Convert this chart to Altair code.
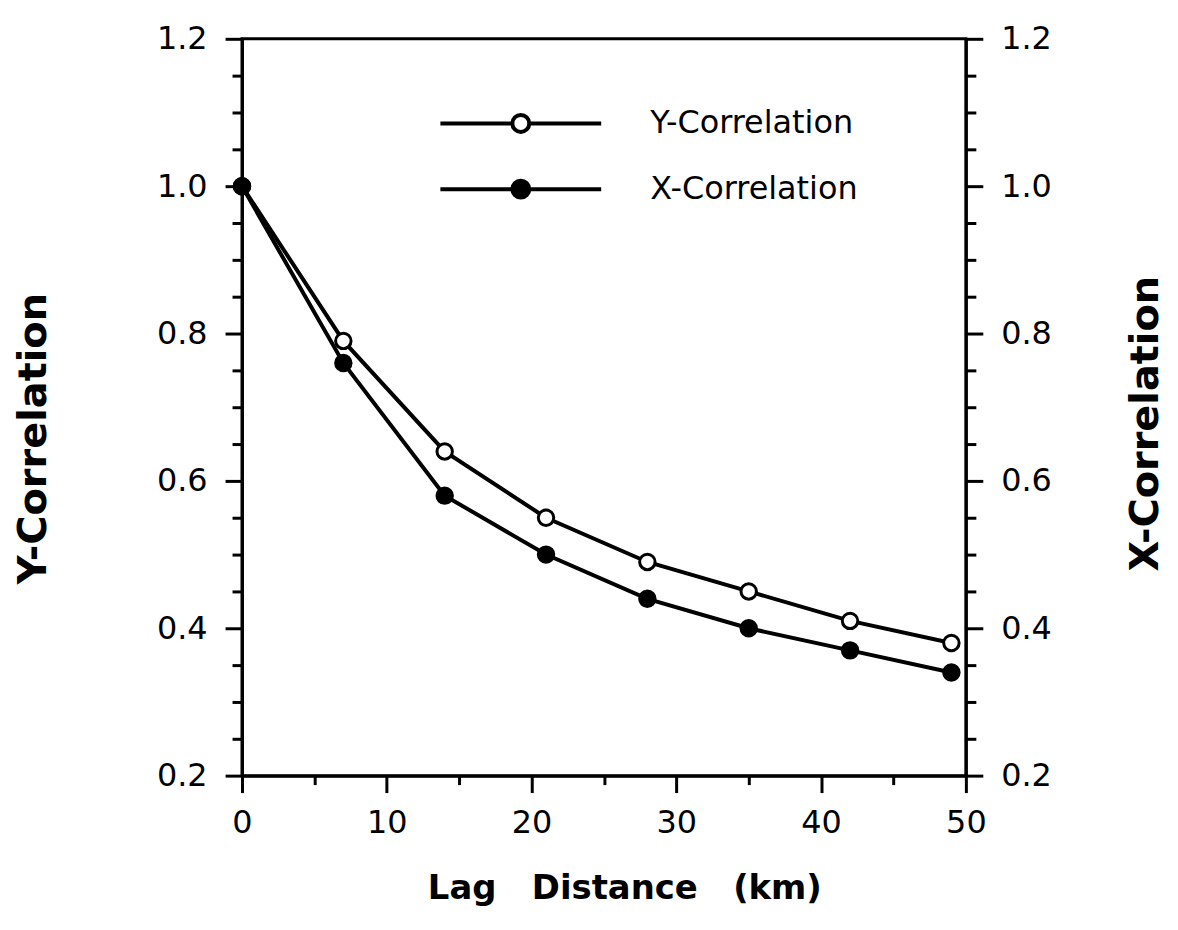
import altair as alt
import pandas as pd

# ---- data ----
lag_km = [0, 7, 14, 21, 28, 35, 42, 49]
y_correlation = [1.00, 0.79, 0.64, 0.55, 0.49, 0.45, 0.41, 0.38]
x_correlation = [1.00, 0.76, 0.58, 0.50, 0.44, 0.40, 0.37, 0.34]
series_names = ["Y-Correlation", "X-Correlation"]
series_fill = ["white", "black"]

x_tick_values = [0, 5, 10, 15, 20, 25, 30, 35, 40, 45, 50]
y_tick_values = [0.2, 0.25, 0.3, 0.35, 0.4, 0.45, 0.5, 0.55, 0.6, 0.65, 0.7,
                 0.75, 0.8, 0.85, 0.9, 0.95, 1.0, 1.05, 1.1, 1.15, 1.2]

x_title = "Lag\u00a0\u00a0\u00a0Distance\u00a0\u00a0\u00a0(km)"

df = pd.DataFrame({
    "lag": lag_km + lag_km,
    "value": y_correlation + x_correlation,
    "series": [series_names[0]] * len(lag_km) + [series_names[1]] * len(lag_km),
})

W, H = 727, 740
FONT = "DejaVu Sans"

y_major = "abs(datum.value*5 - round(datum.value*5)) < 0.001"
x_major = "datum.value % 10 === 0"

x_enc = alt.X(
    "lag:Q",
    scale=alt.Scale(domain=[0, 50], nice=False, zero=False),
    title=x_title,
    axis=alt.Axis(
        orient="bottom", values=x_tick_values, grid=False,
        labelExpr=f"{x_major} ? datum.label : ''",
        tickSize={"condition": {"test": x_major, "value": 17}, "value": 9},
        labelPadding=15, labelFlush=False, labelOverlap=False,
        labelFont=FONT, labelFontSize=32, labelColor="black",
        titleFont=FONT, titleFontSize=34, titleFontWeight="bold", titleColor="black",
        titleX=384, titleY=113, titleBaseline="middle", titleAlign="center",
    ),
)

def y_axis(orient, title_x, title_y):
    return alt.Axis(
        orient=orient, values=y_tick_values, grid=False,
        labelExpr=f"{y_major} ? format(datum.value, '.1f') : ''",
        tickSize={"condition": {"test": y_major, "value": 17}, "value": 10},
        labelPadding=18, labelFlush=False, labelOverlap=False,
        labelFont=FONT, labelFontSize=32, labelColor="black",
        titleFont=FONT, titleFontSize=40, titleFontWeight="bold", titleColor="black",
        titleAngle=270, titleX=title_x, titleY=title_y,
        titleBaseline="middle", titleAlign="center",
    )

y_scale = alt.Scale(domain=[0.2, 1.2], nice=False, zero=False)

# legend glyph: a line through a circle (unit circle, line reaching +-9.5 radii)
legend_path = ("M-9.5,0H-1M1,0H9.5"
               "M-1,0A1,1,0,1,0,1,0A1,1,0,1,0,-1,0Z")

fill_enc = alt.Fill(
    "series:N",
    scale=alt.Scale(domain=series_names, range=series_fill),
    legend=alt.Legend(
        title=None, orient="none", legendX=264, legendY=69,
        direction="vertical",
        symbolType=legend_path, symbolSize=289,
        symbolStrokeColor="black", symbolStrokeWidth=4, symbolOpacity=1,
        labelFont=FONT, labelFontSize=32, labelColor="black", labelLimit=0,
        labelOffset=114, rowPadding=32, padding=0,
    ),
)

base = alt.Chart(df)

y_left = alt.Y("value:Q", scale=y_scale, title="Y-Correlation",
               axis=y_axis("left", -209, 401))
y_right = alt.Y("value:Q", scale=y_scale, title="X-Correlation",
                axis=y_axis("right", 180, 386))

line_y = base.transform_filter(alt.datum.series == series_names[0]).mark_line(
    color="black", strokeWidth=4).encode(x=x_enc, y=y_left)
pts_y = base.transform_filter(alt.datum.series == series_names[0]).mark_point(
    shape="circle", size=240, stroke="black", strokeWidth=3, opacity=1, filled=True
).encode(x=x_enc, y=y_left, fill=fill_enc)

line_x = base.transform_filter(alt.datum.series == series_names[1]).mark_line(
    color="black", strokeWidth=4).encode(x=x_enc, y=y_right)
pts_x = base.transform_filter(alt.datum.series == series_names[1]).mark_point(
    shape="circle", size=240, stroke="black", strokeWidth=3, opacity=1, filled=True
).encode(x=x_enc, y=y_right, fill=fill_enc)

left = alt.layer(line_y, pts_y)
right = alt.layer(line_x, pts_x)

chart = alt.layer(left, right).resolve_scale(y="independent").properties(
    width=W, height=H,
    autosize=alt.AutoSizeParams(type="none"),
    padding={"left": 235, "top": 29, "right": 205, "bottom": 132},
    background="white",
).configure_view(
    stroke="black", strokeWidth=3
).configure_axis(
    domainColor="black", domainWidth=3, tickColor="black", tickWidth=3,
)

chart.save("out.html", embed_options={"renderer": "svg", "actions": False})
